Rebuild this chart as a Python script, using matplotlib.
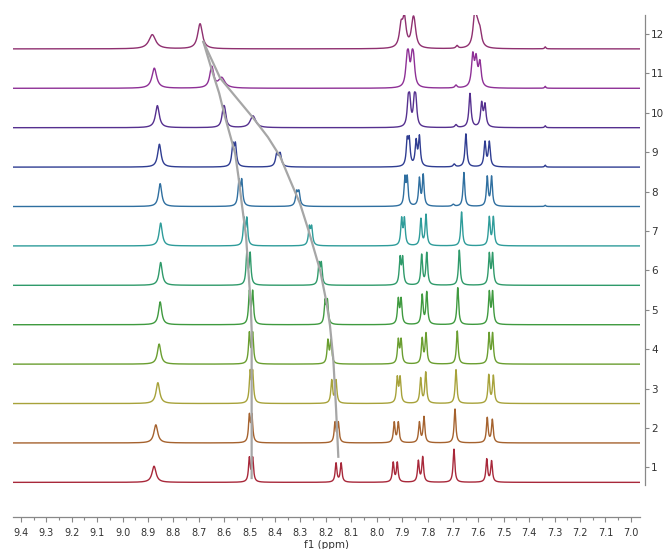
import numpy as np
import matplotlib.pyplot as plt
from matplotlib.ticker import MultipleLocator

# stacked 1H NMR titration, spectrum 1 at the bottom
levels = [1, 2, 3, 4, 5, 6, 7, 8, 9, 10, 11, 12]
colors = ['#a8283a', '#a5622e', '#a7a23a', '#6a9e30', '#3f9a3f', '#2f9a6a',
          '#2e9c9a', '#2f6fa0', '#2f3d92', '#55308f', '#8e3096', '#8f3070']
line_w = [0.008, 0.008, 0.008, 0.008, 0.008, 0.008, 0.008, 0.008, 0.009, 0.010, 0.012, 0.016]

# singlet near 8.87
a_ppm = [8.876, 8.869, 8.861, 8.856, 8.852, 8.850, 8.850, 8.852, 8.855, 8.863, 8.875, 8.883]
a_h = [0.41, 0.46, 0.53, 0.51, 0.58, 0.58, 0.58, 0.58, 0.58, 0.56, 0.51, 0.36]
a_w = [0.019, 0.018, 0.017, 0.016, 0.015, 0.015, 0.015, 0.015, 0.016, 0.018, 0.022, 0.032]

# doublet moving 8.50 -> 8.69
b1_ppm = [8.501, 8.501, 8.498, 8.501, 8.501, 8.511, 8.522, 8.542, 8.566, 8.604, 8.651, 8.697]
b2_ppm = [8.488, 8.491, 8.488, 8.488, 8.488, 8.498, 8.511, 8.531, 8.556, 8.598, 8.647, 8.693]
b_h = [0.60, 0.66, 0.76, 0.76, 0.81, 0.78, 0.66, 0.62, 0.53, 0.34, 0.28, 0.33]
b_w = [0.008, 0.008, 0.008, 0.008, 0.008, 0.008, 0.008, 0.009, 0.010, 0.013, 0.017, 0.021]

# doublet moving 8.15 -> 8.61
c1_ppm = [8.160, 8.164, 8.177, 8.192, 8.203, 8.227, 8.265, 8.315, 8.393, 8.490, 8.612, 8.690]
c2_ppm = [8.140, 8.151, 8.160, 8.180, 8.194, 8.218, 8.256, 8.306, 8.380, 8.484, 8.608, 8.690]
c_h = [0.48, 0.50, 0.58, 0.58, 0.57, 0.52, 0.44, 0.34, 0.32, 0.16, 0.13, 0.0]
c_w = [0.008, 0.008, 0.008, 0.008, 0.008, 0.008, 0.009, 0.010, 0.012, 0.023, 0.029, 0.030]

# doublet near 7.91
d1_ppm = [7.935, 7.931, 7.919, 7.915, 7.915, 7.908, 7.902, 7.889, 7.880, 7.876, 7.881, 7.904]
d2_ppm = [7.919, 7.915, 7.908, 7.904, 7.904, 7.898, 7.891, 7.880, 7.872, 7.870, 7.875, 7.891]
d1_h = [0.49, 0.51, 0.63, 0.59, 0.62, 0.66, 0.66, 0.68, 0.62, 0.58, 0.56, 0.52]
d2_h = [0.49, 0.51, 0.63, 0.59, 0.62, 0.66, 0.66, 0.68, 0.62, 0.58, 0.56, 0.70]

# doublet near 7.82
e1_ppm = [7.836, 7.832, 7.827, 7.821, 7.821, 7.823, 7.826, 7.832, 7.845, 7.852, 7.861, 7.858]
e2_ppm = [7.819, 7.814, 7.807, 7.806, 7.803, 7.803, 7.806, 7.817, 7.832, 7.846, 7.855, 7.852]
e1_h = [0.53, 0.51, 0.63, 0.63, 0.74, 0.76, 0.67, 0.69, 0.62, 0.58, 0.56, 0.45]
e2_h = [0.63, 0.65, 0.78, 0.76, 0.81, 0.81, 0.78, 0.78, 0.74, 0.58, 0.56, 0.45]

# singlet near 7.69
f_ppm = [7.696, 7.692, 7.688, 7.683, 7.681, 7.675, 7.666, 7.657, 7.649, 7.633, 7.622, 7.614]
f_h = [0.84, 0.86, 0.86, 0.84, 0.94, 0.89, 0.86, 0.86, 0.84, 0.86, 0.78, 0.80]

# doublet near 7.55
g1_ppm = [7.567, 7.565, 7.559, 7.558, 7.557, 7.557, 7.557, 7.565, 7.574, 7.587, 7.609, 7.604]
g2_ppm = [7.548, 7.545, 7.541, 7.544, 7.544, 7.544, 7.541, 7.548, 7.557, 7.574, 7.594, 7.594]
g1_h = [0.58, 0.63, 0.71, 0.75, 0.80, 0.77, 0.71, 0.74, 0.62, 0.59, 0.66, 0.35]
g2_h = [0.53, 0.58, 0.69, 0.75, 0.80, 0.77, 0.71, 0.74, 0.62, 0.55, 0.60, 0.35]

# small impurity bumps
s1_ppm = [7.70, 7.70, 7.70, 7.70, 7.70, 7.70, 7.70, 7.699, 7.695, 7.688, 7.688, 7.684]
s1_h = [0, 0, 0, 0, 0, 0, 0, 0.05, 0.07, 0.07, 0.07, 0.07]
s2_ppm = [7.337] * 12
s2_h = [0, 0, 0, 0, 0, 0, 0, 0.03, 0.05, 0.05, 0.05, 0.05]

# hand drawn guide curves (ppm, stack level)
guide_b_ppm = [8.682, 8.649, 8.620, 8.597, 8.557, 8.544, 8.531, 8.514, 8.505, 8.496, 8.492, 8.492]
guide_b_lvl = [11.80, 11.09, 10.50, 9.90, 8.97, 8.38, 7.70, 6.86, 6.01, 5.17, 4.49, 0.73]
guide_c_ppm = [8.682, 8.616, 8.548, 8.485, 8.428, 8.380, 8.341, 8.302, 8.269, 8.223, 8.197,
               8.184, 8.171, 8.160, 8.151]
guide_c_lvl = [11.80, 10.88, 10.35, 9.86, 9.38, 8.89, 8.29, 7.70, 7.03, 6.01, 5.17,
               4.61, 3.77, 2.50, 1.27]


def lorentz(x, pos, h, w):
    return h / (1 + ((x - pos) / (w / 2)) ** 2)


x = np.linspace(9.431, 6.964, 6000)

fig = plt.figure(figsize=(6.66, 5.49), dpi=100)
ax = fig.add_axes([13 / 666, 64 / 549, 627 / 666, 470 / 549])

for i, lev in enumerate(levels):
    w = line_w[i]
    y = np.full_like(x, lev - 0.38)
    y += lorentz(x, a_ppm[i], a_h[i], a_w[i])
    y += lorentz(x, b1_ppm[i], b_h[i], b_w[i]) + lorentz(x, b2_ppm[i], b_h[i], b_w[i])
    y += lorentz(x, c1_ppm[i], c_h[i], c_w[i]) + lorentz(x, c2_ppm[i], c_h[i], c_w[i])
    y += lorentz(x, d1_ppm[i], d1_h[i], w) + lorentz(x, d2_ppm[i], d2_h[i], w)
    y += lorentz(x, e1_ppm[i], e1_h[i], w) + lorentz(x, e2_ppm[i], e2_h[i], w)
    y += lorentz(x, f_ppm[i], f_h[i], w)
    y += lorentz(x, g1_ppm[i], g1_h[i], w) + lorentz(x, g2_ppm[i], g2_h[i], w)
    y += lorentz(x, s1_ppm[i], s1_h[i], 0.01) + lorentz(x, s2_ppm[i], s2_h[i], 0.006)
    ax.plot(x, y, color=colors[i], lw=1.0)

ax.plot(guide_b_ppm, guide_b_lvl, color='#a6a6a6', lw=1.6, zorder=5)
ax.plot(guide_c_ppm, guide_c_lvl, color='#a6a6a6', lw=1.6, zorder=5)

ax.set_xlim(9.431, 6.964)
ax.set_ylim(0.553, 12.48)

for s in ['left', 'top']:
    ax.spines[s].set_visible(False)
ax.spines['bottom'].set_position(('outward', 23))
ax.spines['right'].set_position(('outward', 3.6))
for s in ['bottom', 'right']:
    ax.spines[s].set_color('#888888')
    ax.spines[s].set_linewidth(0.9)

ax.xaxis.set_major_locator(MultipleLocator(0.1))
ax.xaxis.set_minor_locator(MultipleLocator(0.05))
ax.xaxis.set_major_formatter(plt.FuncFormatter(lambda v, p: f'{v:.1f}'))
ax.tick_params(axis='x', which='major', direction='out', length=3.4, width=0.8,
               color='#888888', labelsize=7, labelcolor='#333333', pad=4.5)
ax.tick_params(axis='x', which='minor', direction='out', length=2.2, width=0.8, color='#888888')

ax.yaxis.set_ticks_position('right')
ax.set_yticks(levels)
ax.tick_params(axis='y', direction='out', length=3, width=0.8, color='#888888',
               labelsize=7.5, labelcolor='#333333', pad=1.5)

ax.set_xlabel('f1 (ppm)', fontsize=7.5, color='#333333', labelpad=1.5)

fig.savefig('out.png', dpi=100)
